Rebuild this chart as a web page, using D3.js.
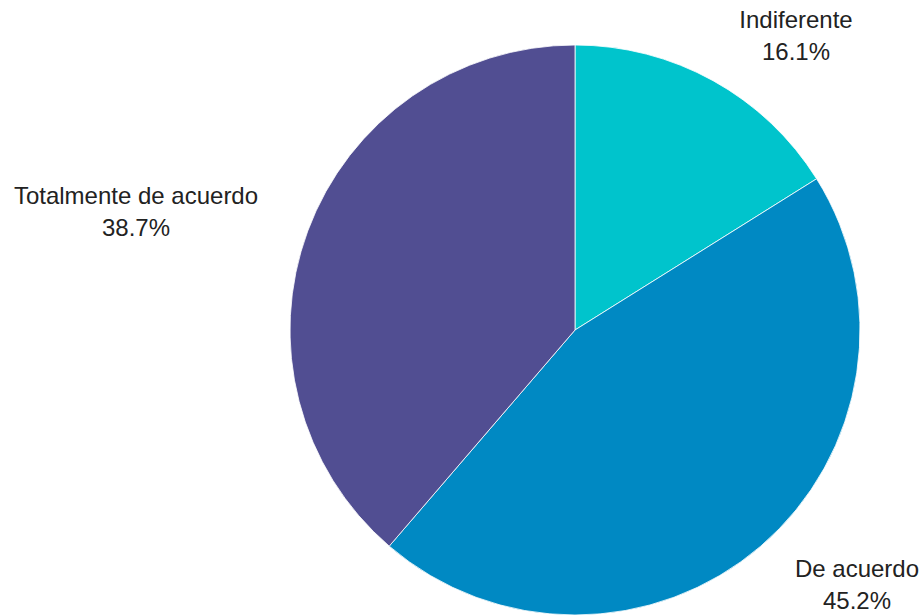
<!DOCTYPE html>
<html>
<head>
<meta charset="utf-8">
<script src="https://cdn.jsdelivr.net/npm/d3@7"></script>
<style>
  html, body { margin: 0; padding: 0; background: #ffffff; }
  svg { display: block; }
  text { font-family: "Liberation Sans", Arial, sans-serif; fill: #222222; }
</style>
</head>
<body>
<svg id="chart" width="923" height="616"></svg>
<script>
// Survey answers, clockwise from 12 o'clock
const categories = ["Indiferente", "De acuerdo", "Totalmente de acuerdo"];
const values = [16.1, 45.2, 38.7];
const colors = ["#00C4CC", "#0089C3", "#514E92"];

// Label placement (centre x, first baseline y) for each slice
const labelPlacement = {
  "Indiferente": [796, 28],
  "De acuerdo": [857, 577],
  "Totalmente de acuerdo": [136, 204]
};

const width = 923, height = 616;
const cx = 575, cy = 330, radius = 285;

const svg = d3.select("#chart");
const data = categories.map((c, i) => ({ category: c, value: values[i], color: colors[i] }));

const pie = d3.pie().sort(null).value(d => d.value);
const arc = d3.arc().innerRadius(0).outerRadius(radius);

const g = svg.append("g").attr("transform", `translate(${cx},${cy})`);
g.selectAll("path")
  .data(pie(data))
  .join("path")
  .attr("d", arc)
  .attr("fill", d => d.data.color)
  .attr("stroke", "#ffffff")
  .attr("stroke-width", 0.8);

const labels = svg.append("g")
  .selectAll("text")
  .data(data)
  .join("text")
  .attr("text-anchor", "middle")
  .attr("font-size", 24)
  .attr("x", d => labelPlacement[d.category][0])
  .attr("y", d => labelPlacement[d.category][1]);

labels.append("tspan")
  .attr("x", d => labelPlacement[d.category][0])
  .text(d => d.category);
labels.append("tspan")
  .attr("x", d => labelPlacement[d.category][0])
  .attr("dy", 32)
  .text(d => d.value.toFixed(1) + "%");
</script>
</body>
</html>
